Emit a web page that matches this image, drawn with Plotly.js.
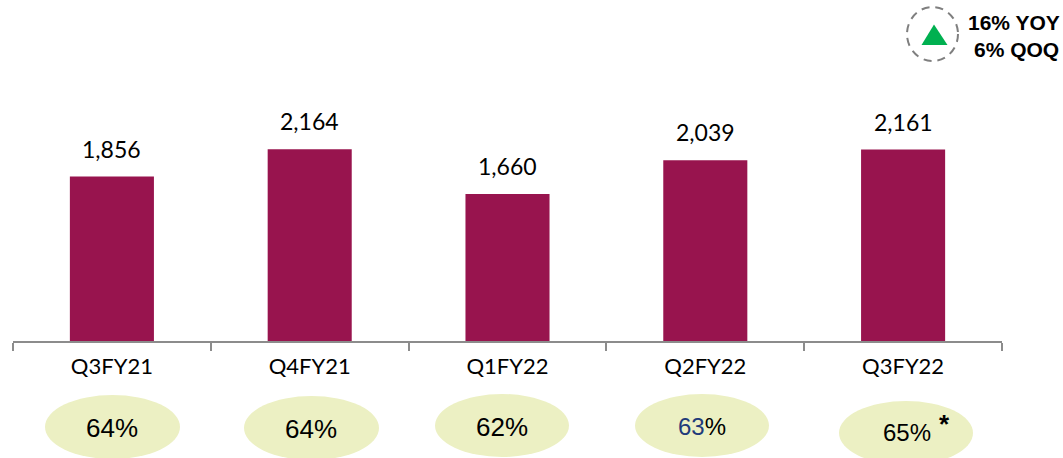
<!DOCTYPE html>
<html><head><meta charset="utf-8">
<script src="https://cdn.plot.ly/plotly-3.0.1.min.js"></script>
<style>html,body{margin:0;padding:0;background:#fff}</style></head>
<body><div id="c" style="width:1063px;height:458px"></div>
<script>
const W=1063,H=458;
const categories=["Q3FY21","Q4FY21","Q1FY22","Q2FY22","Q3FY22"];
const values=[1856,2164,1660,2039,2161];
const valueLabels=["1,856","2,164","1,660","2,039","2,161"];
const pctLabels=["64%","64%","62%",'<span style="color:#1f3b7a">63</span>%',"65%"];
const pctFontSizes=[26,26,26,24,24];
const ellipseBoxes=[[45,395,180,459],[244,396,379,460],[435,394,569,457],[635,394,769,457],[839,401,973,465]];
const pctCenters=[[112,428],[311,429],[502,427],[702,426],[907,432]];
const L=13,R=61,T=100,B=117;
const px=x=>(x-L)/(W-L-R), py=y=>1-(y-T)/(H-T-B);
const annotations=categories.map((c,i)=>({x:c,y:values[i],xref:'x',yref:'y',text:valueLabels[i],showarrow:false,
  yanchor:'bottom',yshift:12,font:{family:'Lato, sans-serif',size:23,color:'#000'}}));
pctLabels.forEach((t,i)=>annotations.push({x:px(pctCenters[i][0]),y:py(pctCenters[i][1]),xref:'paper',yref:'paper',text:t,showarrow:false,
  xanchor:'center',yanchor:'middle',font:{family:'Liberation Sans, Arial',size:pctFontSizes[i],color:'#000'}}));
annotations.push({x:px(944),y:py(424),xref:'paper',yref:'paper',text:'<b>*</b>',showarrow:false,xanchor:'center',yanchor:'middle',font:{family:'Liberation Sans, Arial',size:26,color:'#000'}});
annotations.push({x:px(1014),y:py(22),xref:'paper',yref:'paper',text:'<b>16% YOY</b>',showarrow:false,xanchor:'center',yanchor:'middle',font:{family:'Liberation Sans, Arial',size:21,color:'#000'}});
annotations.push({x:px(1017),y:py(49),xref:'paper',yref:'paper',text:'<b>6% QOQ</b>',showarrow:false,xanchor:'center',yanchor:'middle',font:{family:'Liberation Sans, Arial',size:21,color:'#000'}});
const shapes=ellipseBoxes.map(b=>({type:'circle',xref:'paper',yref:'paper',x0:px(b[0]),x1:px(b[2]),y0:py(b[1]),y1:py(b[3]),
  fillcolor:'#ecf0c3',line:{width:0},layer:'below'}));
shapes.push({type:'circle',xref:'paper',yref:'paper',x0:px(907),x1:px(958),y0:py(7),y1:py(61),fillcolor:'rgba(0,0,0,0)',line:{color:'#7f7f7f',width:2,dash:'8px,6px'}});
shapes.push({type:'path',xref:'paper',yref:'paper',path:`M ${px(934)} ${py(24.5)} L ${px(921.5)} ${py(45)} L ${px(947.5)} ${py(45)} Z`,fillcolor:'#00b050',line:{width:0}});
Plotly.newPlot('c',[{type:'bar',x:categories,y:values,marker:{color:'#98144e'},width:0.425,hoverinfo:'skip'}],{
  width:W,height:H,paper_bgcolor:'#fff',plot_bgcolor:'#fff',showlegend:false,
  margin:{l:L,r:R,t:T,b:B,pad:0,autoexpand:false},
  bargap:0.575,
  xaxis:{type:'category',tickson:'boundaries',ticks:'outside',ticklen:8,tickcolor:'#8c8c8c',tickwidth:2,showline:true,linecolor:'#8c8c8c',linewidth:2,
    ticklabelstandoff:5,showgrid:false,zeroline:false,tickfont:{family:'Lato, sans-serif',size:22,color:'#000'}},
  yaxis:{range:[0,2720],visible:false,showgrid:false,zeroline:false},
  annotations,shapes
},{displayModeBar:false,staticPlot:true});
</script></body></html>
